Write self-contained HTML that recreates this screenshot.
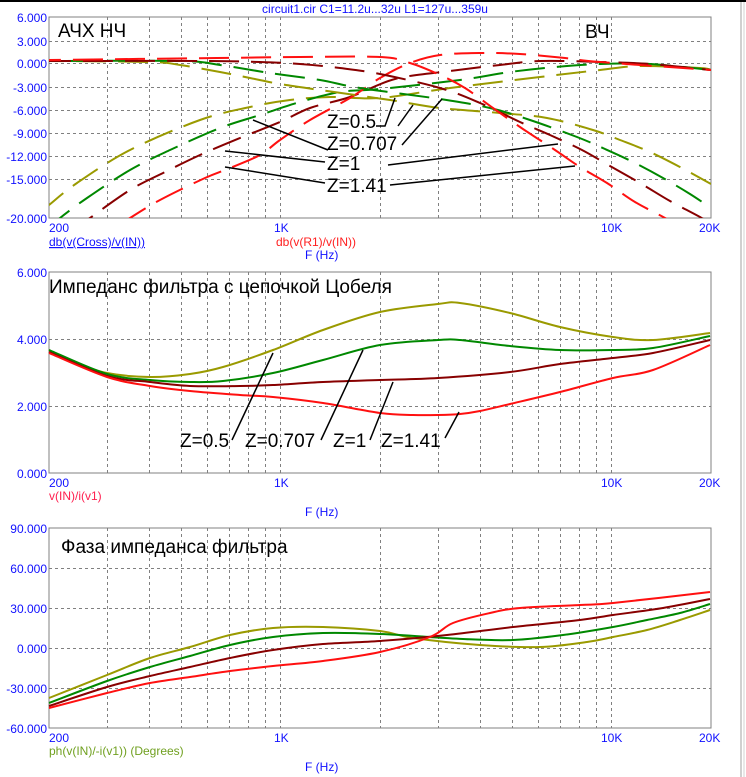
<!DOCTYPE html>
<html><head><meta charset="utf-8"><style>
html,body{margin:0;padding:0;background:#fff;}
svg{display:block;}
text{font-family:"Liberation Sans","DejaVu Sans",sans-serif;}
.t{fill:#1010ff;font-size:12px;}
.tr{fill:#1010ff;font-size:12px;text-anchor:end;}
.big{fill:#000;font-size:19px;}
</style></head><body>
<svg id="s" width="746" height="777" xmlns="http://www.w3.org/2000/svg">
<rect x="0" y="0" width="746" height="2" fill="#000"/>
<line x1="741" y1="2" x2="741" y2="777" stroke="#a0a0a0" stroke-width="1"/>
<line x1="744" y1="2" x2="744" y2="777" stroke="#d0d0d0" stroke-width="1"/>
<g id="grid"></g>
<g id="curves"></g>
<text x="375" y="13" class="t" text-anchor="middle" font-size="12">circuit1.cir C1=11.2u...32u L1=127u...359u</text>
<!-- panel1 y labels -->
<text x="47" y="22" class="tr">6.000</text>
<text x="47" y="46" class="tr">3.000</text>
<text x="47" y="68" class="tr">0.000</text>
<text x="47" y="92" class="tr">-3.000</text>
<text x="47" y="115" class="tr">-6.000</text>
<text x="47" y="138" class="tr">-9.000</text>
<text x="47" y="161" class="tr">-12.000</text>
<text x="47" y="184" class="tr">-15.000</text>
<text x="47" y="223" class="tr">-20.000</text>
<text x="49" y="232" class="t">200</text><text x="274" y="232" class="t">1K</text>
<text x="601" y="232" class="t">10K</text><text x="699" y="232" class="t">20K</text>
<text x="49" y="246" class="t" text-decoration="underline">db(v(Cross)/v(IN))</text>
<text x="276" y="246" class="t" style="fill:#ff2020">db(v(R1)/v(IN))</text>
<text x="305" y="259" class="t">F (Hz)</text>
<text x="58" y="37" class="big" font-size="20">АЧХ НЧ</text>
<text x="585" y="38" class="big" font-size="20">ВЧ</text>
<!-- panel2 -->
<text x="47" y="277" class="tr">6.000</text>
<text x="47" y="344" class="tr">4.000</text>
<text x="47" y="411" class="tr">2.000</text>
<text x="47" y="478" class="tr">0.000</text>
<text x="49" y="487" class="t">200</text><text x="274" y="487" class="t">1K</text>
<text x="601" y="487" class="t">10K</text><text x="699" y="487" class="t">20K</text>
<text x="49" y="500" class="t" style="fill:#ff2050">v(IN)/i(v1)</text>
<text x="305" y="516" class="t">F (Hz)</text>
<text x="49" y="293" class="big" font-size="18">Импеданс фильтра с цепочкой Цобеля</text>
<!-- panel3 -->
<text x="47" y="533" class="tr">90.000</text>
<text x="47" y="573" class="tr">60.000</text>
<text x="47" y="613" class="tr">30.000</text>
<text x="47" y="653" class="tr">0.000</text>
<text x="47" y="693" class="tr">-30.000</text>
<text x="47" y="733" class="tr">-60.000</text>
<text x="49" y="742" class="t">200</text><text x="274" y="742" class="t">1K</text>
<text x="601" y="742" class="t">10K</text><text x="699" y="742" class="t">20K</text>
<text x="49" y="755" class="t" style="fill:#70a020">ph(v(IN)/-i(v1)) (Degrees)</text>
<text x="305" y="771" class="t">F (Hz)</text>
<text x="61" y="553" class="big" font-size="18">Фаза импеданса фильтра</text>
<!-- annotations top -->
<g stroke="#000" stroke-width="1.5" fill="none">
<polyline points="253,120 328,150"/>
<polyline points="225,151 325,162"/>
<polyline points="225,167 325,183"/>
<polyline points="395,98 385,126 376,126"/>
<polyline points="398,126 413,105"/>
<polyline points="402,145 442,99"/>
<polyline points="388,165 558,144"/>
<polyline points="390,185 575,166"/>
<polyline points="232,440 273,353"/>
<polyline points="321,440 363,350"/>
<polyline points="370,440 393,382"/>
<polyline points="445,438 459,412"/>
</g>
<text x="327" y="128" class="big">Z=0.5</text>
<text x="327" y="150" class="big">Z=0.707</text>
<text x="327" y="170" class="big">Z=1</text>
<text x="327" y="192" class="big">Z=1.41</text>
<text x="180" y="447" class="big">Z=0.5</text>
<text x="245" y="447" class="big">Z=0.707</text>
<text x="333" y="447" class="big">Z=1</text>
<text x="381" y="447" class="big">Z=1.41</text>
</svg>
<script>
var NS="http://www.w3.org/2000/svg";
function el(p,n,a){var e=document.createElementNS(NS,n);for(var k in a)e.setAttribute(k,a[k]);p.appendChild(e);return e;}
var g=document.getElementById('grid'),cv=document.getElementById('curves');
var X0=49,X1=711;
function fx(f){return X0+331*Math.log10(f/200);}
var fr=[300,400,500,600,700,800,900,1000,2000,3000,4000,5000,6000,7000,8000,9000,10000];
function panel(t,b,hs){
  el(g,'rect',{x:X0,y:t,width:X1-X0,height:b-t,fill:'none',stroke:'#808080','stroke-width':1});
  fr.forEach(function(f){var x=Math.round(fx(f))+.5;el(g,'line',{x1:x,y1:t,x2:x,y2:b,stroke:'#808080','stroke-dasharray':'3 3'});});
  hs.forEach(function(y){el(g,'line',{x1:X0,y1:y+.5,x2:X1,y2:y+.5,stroke:'#808080','stroke-dasharray':'3 3'});});
}
panel(17,218,[41,63,87,110,133,156,179]);
panel(272,473,[339,406]);
panel(528,728,[568,608,648,688]);
function path(pts){
  var d='M'+pts[0][0]+','+pts[0][1];
  for(var i=0;i<pts.length-1;i++){
    var p0=pts[i-1]||pts[i],p1=pts[i],p2=pts[i+1],p3=pts[i+2]||p2;
    var c1x=p1[0]+(p2[0]-p0[0])/6,c1y=p1[1]+(p2[1]-p0[1])/6,c2x=p2[0]-(p3[0]-p1[0])/6,c2y=p2[1]-(p3[1]-p1[1])/6;
    d+=' C'+c1x+','+c1y+' '+c2x+','+c2y+' '+p2[0]+','+p2[1];
  }
  return d;
}
function draw(pts,col,dash,off,clipT,clipB){
  var a={d:path(pts),fill:'none',stroke:col,'stroke-width':2};
  if(dash){a['stroke-dasharray']=dash;a['stroke-dashoffset']=off;}
  el(cv,'path',a);
}
var OL='#9a9a00',GR='#008800',DR='#880000',RD='#ff1010';
// clip for top panel
var cp=el(document.getElementById('s'),'clipPath',{id:'c1'});
el(cp,'rect',{x:49,y:17,width:662,height:201});
cv.setAttribute('clip-path','url(#c1)');
var D='30 12';
// top HP
draw([[40,212],[49,205],[77,183],[130,150],[200,120],[250,107],[290,100],[330,97],[380,98],[450,88],[540,77],[600,70],[640,66],[700,68],[711,70]],OL,D,0);
draw([[55,224],[60,218],[87,198],[130,170],[170,150],[220,128],[260,115],[300,102],[340,92],[380,89],[460,80],[510,72],[555,67],[600,64],[650,64],[711,70]],GR,D,10);
draw([[85,222],[90,218],[130,190],[165,172],[200,155],[240,138],[280,122],[310,108],[350,97],[395,79],[450,71],[500,65],[540,61],[600,62],[650,64],[711,70]],DR,D,20);
draw([[125,222],[130,218],[160,200],[205,178],[230,168],[260,155],[280,140],[310,120],[350,98],[380,78],[410,63],[440,55],[480,53],[520,54],[565,58],[600,62],[711,70]],RD,D,5);
// top LP
draw([[49,61],[150,62],[180,65],[220,72],[250,78],[280,84],[320,90],[390,100],[440,108],[500,113],[547,118],[593,130],[620,140],[650,152],[680,167],[711,184]],OL,D,15);
draw([[49,61],[180,61],[220,65],[270,73],[320,80],[360,88],[440,99],[490,108],[530,120],[577,137],[605,149],[633,162],[663,178],[690,194],[711,208]],GR,D,25);
draw([[49,61],[200,61],[260,62],[300,64],[340,68],[380,74],[440,88],[480,103],[520,122],[550,135],[582,150],[610,166],[640,183],[670,201],[700,217],[711,224]],DR,D,8);
draw([[49,60],[217,58],[300,57],[380,57],[410,63],[440,75],[465,88],[493,108],[520,127],[555,150],[580,167],[607,183],[635,202],[665,218],[680,228]],RD,D,18);
// panel 2
var c2=document.createElementNS(NS,'g');document.getElementById('s').insertBefore(c2,cv.nextSibling);
function draw2(pts,col){el(c2,'path',{d:path(pts),fill:'none',stroke:col,'stroke-width':2});}
draw2([[49,350],[73,362],[107,373],[150,377],[190,374],[223,367],[273,350],[323,330],[380,312],[438,304],[460,303],[510,313],[560,327],[613,337],[653,340],[710,333]],OL);
draw2([[49,350],[107,374],[150,380],[190,382],[223,381],[273,373],[323,360],[380,345],[438,340],[460,340],[510,346],[560,350],[613,350],[653,348],[710,336]],GR);
draw2([[49,352],[107,376],[150,382],[190,386],[240,386],[273,385],[323,382],[380,380],[438,378],[510,372],[560,364],[613,358],[653,353],[710,340]],DR);
draw2([[49,353],[107,377],[150,386],[190,391],[240,395],[273,397],[323,403],[380,413],[413,415],[438,415],[460,414],[480,411],[510,404],[560,392],[613,378],[653,370],[710,345]],RD);
// panel 3
draw2([[49,698],[107,675],[150,658],[190,647],[230,635],[273,628],[323,627],[380,631],[413,638],[480,645],[540,647],[587,642],[613,637],[647,630],[680,620],[710,610]],OL);
draw2([[49,703],[107,681],[150,667],[190,656],[230,645],[273,637],[323,633],[380,634],[463,639],[513,640],[563,635],[613,627],[647,620],[680,613],[710,604]],GR);
draw2([[49,706],[107,687],[150,676],[190,667],[230,658],[273,650],[323,644],[380,641],[447,635],[513,627],[580,620],[613,615],[663,608],[710,599]],DR);
draw2([[49,708],[107,693],[150,683],[190,677],[230,671],[273,666],[323,661],[380,652],[430,637],[453,623],[490,613],[520,608],[580,605],[613,603],[710,592]],RD);
</script>
</body></html>
